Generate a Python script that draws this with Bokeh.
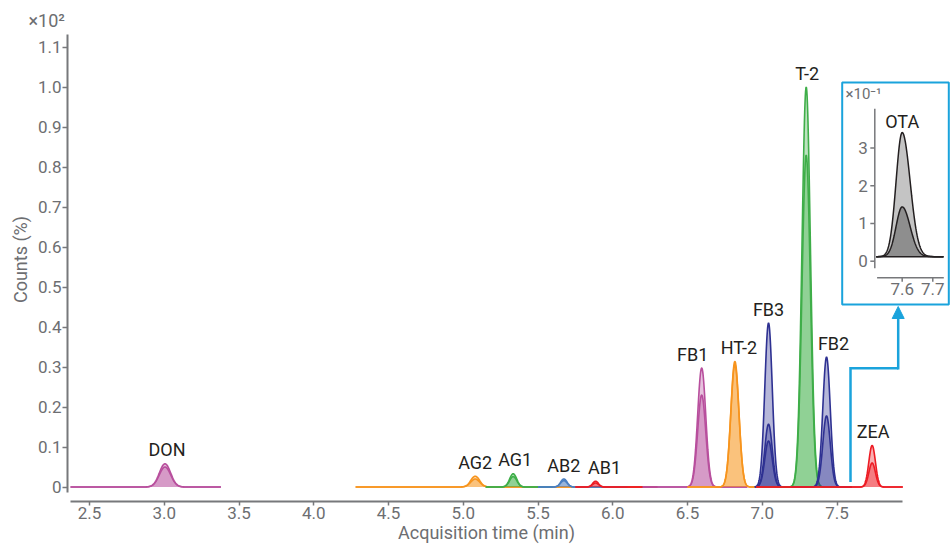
import numpy as np
from math import pi
from bokeh.plotting import figure
from bokeh.models import (Range1d, FixedTicker, Label, Arrow, NormalHead,
                          PrintfTickFormatter)
from bokeh.core.properties import value
from bokeh.embed import file_html
from bokeh.resources import INLINE

# ---------------- data ----------------
compounds = ["DON", "AG2", "AG1", "AB2", "AB1", "FB1", "HT-2", "FB3", "T-2", "FB2", "ZEA"]
apex_times = [3.005, 5.08, 5.334, 5.673, 5.885, 6.595, 6.817, 7.042, 7.294, 7.43, 7.735]
trace_heights = [
    [0.058, 0.050],
    [0.027, 0.020],
    [0.033, 0.026],
    [0.020, 0.016],
    [0.0145, 0.010],
    [0.2975, 0.23],
    [0.314, 0.306],
    [0.41, 0.157, 0.115],
    [1.0, 0.83],
    [0.325, 0.178],
    [0.104, 0.06],
]
peak_widths = [0.038, 0.030, 0.024, 0.022, 0.020, 0.027, 0.027, 0.025, 0.028, 0.025, 0.022]
window_start = [2.373, 4.28, 5.15, 5.50, 5.75, 6.20, 6.50, 6.95, 7.00, 7.20, 6.96]
window_end = [3.38, 6.30, 5.60, 6.10, 6.30, 6.90, 7.10, 7.30, 7.60, 7.60, 7.94]

ota_name = "OTA"
ota_time = 7.60
ota_heights = [3.29, 1.32]
ota_baseline = 0.12
ota_width_left = 0.020
ota_width_right = 0.026
ota_window = [7.515, 7.735]

x_ticks = [2.5, 3.0, 3.5, 4.0, 4.5, 5.0, 5.5, 6.0, 6.5, 7.0, 7.5]
y_ticks = [0, 0.1, 0.2, 0.3, 0.4, 0.5, 0.6, 0.7, 0.8, 0.9, 1.0, 1.1]
inset_x_ticks = [7.6, 7.7]
inset_y_ticks = [0, 1, 2, 3]
inset_y_labels = ["0", "1", "2", "3"]

# ---------------- styles ----------------
MAGENTA = "#b84f9d"
ORANGE = "#f7941d"
GREEN = "#3fae49"
BLUE = "#4a7fc1"
RED = "#ed1c24"
NAVY = "#2e3192"
colors = [MAGENTA, ORANGE, GREEN, BLUE, RED, MAGENTA, ORANGE, NAVY, GREEN, NAVY, RED]
label_dx = [2, 0, 2, 0, 9, -9, 4, 0, 1, 7, 1]
AXIS = "#77787b"
TICKTXT = "#6d6e71"
DARK = "#231f20"
CYAN = "#1aa3dc"
FONT = "Roboto"

# canvas-pixel geometry (canvas == page here)
W, H = 951, 545
X_REF_PX, X_PX_PER = 89.0, 149.5      # t = 2.5 at x px 89
Y_REF_PX, Y_PX_PER = 486.5, 400.0     # y = 0 at y px 486.5


def tx(px):
    return 2.5 + (px - X_REF_PX) / X_PX_PER


def ty(py):
    return (Y_REF_PX - py) / Y_PX_PER


p = figure(width=W, height=H, output_backend="svg", toolbar_location=None,
           x_range=Range1d(tx(0), tx(W)), y_range=Range1d(ty(H), ty(0)),
           min_border_left=0, min_border_right=0, min_border_top=0, min_border_bottom=0)
p.outline_line_color = None
p.xgrid.grid_line_color = None
p.ygrid.grid_line_color = None
p.background_fill_color = "white"
p.border_fill_color = "white"

xa = p.xaxis[0]
xa.fixed_location = ty(501)
xa.ticker = FixedTicker(ticks=x_ticks)
xa.formatter = PrintfTickFormatter(format="%.1f")
xa.bounds = (tx(70), tx(902.3))
ya = p.yaxis[0]
ya.fixed_location = tx(67)
ya.ticker = FixedTicker(ticks=y_ticks)
ya.formatter = PrintfTickFormatter(format="%.1f")
ya.major_label_overrides = {0: "0"}
ya.bounds = (ty(492), ty(34))
for ax in (xa, ya):
    ax.axis_line_color = AXIS
    ax.axis_line_width = 2
    ax.major_tick_line_color = AXIS
    ax.major_tick_line_width = 1.5
    ax.major_tick_in = 0
    ax.minor_tick_line_color = None
    ax.major_label_text_font = FONT
    ax.major_label_text_font_size = "17px"
    ax.major_label_text_color = TICKTXT
xa.major_tick_out = 4
xa.major_label_standoff = 1
ya.major_tick_out = 5
ya.major_label_standoff = 1

# axis titles and exponent (canvas pixel units)
p.add_layout(Label(x=486, y=532, x_units="canvas", y_units="canvas",
                   text="Acquisition time (min)", text_align="center", text_baseline="middle",
                   text_font=FONT, text_font_size="18px", text_color=TICKTXT))
p.add_layout(Label(x=20, y=259, x_units="canvas", y_units="canvas", angle=pi / 2,
                   text="Counts (%)", text_align="center", text_baseline="middle",
                   text_font=FONT, text_font_size="18px", text_color=TICKTXT))
p.add_layout(Label(x=28, y=20, x_units="canvas", y_units="canvas", text="×10²",
                   text_align="left", text_baseline="middle",
                   text_font=FONT, text_font_size="18px", text_color=TICKTXT))


def gauss(t, c, h, s):
    return h * np.exp(-0.5 * ((t - c) / s) ** 2)


# ---------------- chromatogram traces ----------------
for i, name in enumerate(compounds):
    t = np.arange(window_start[i], window_end[i], 0.002)
    for h in trace_heights[i]:
        y = gauss(t, apex_times[i], h, peak_widths[i])
        p.varea(x=t, y1=0, y2=y, fill_color=colors[i], fill_alpha=0.35)
        p.line(t, y, line_color=colors[i], line_width=1.6)

p.text(x=apex_times, y=[max(h) for h in trace_heights], text=compounds,
       x_offset=label_dx, y_offset=-14, text_align="center", text_baseline="middle",
       text_font=value(FONT), text_font_size="18px", text_color=DARK)

# ---------------- inset (OTA) ----------------
p.quad(left=tx(841.7), right=tx(948.3), bottom=ty(304), top=ty(82),
       fill_color="white", line_color=CYAN, line_width=2)

ix0, ix1 = 7.5105, 7.736
iy0, iy1 = -0.44, 4.04
ins = p.subplot(x_source=Range1d(ix0, ix1), y_source=Range1d(iy0, iy1),
                x_target=Range1d(tx(874.3), tx(943.3)),
                y_target=Range1d(ty(277.3), ty(108.3)))

t = np.arange(ota_window[0], ota_window[1], 0.001)
sig = np.where(t < ota_time, ota_width_left, ota_width_right)
ota_fills = ["#c4c4c4", "#8e8e8e"]
for h, fc in zip(ota_heights, ota_fills):
    y = ota_baseline + gauss(t, ota_time, h, sig)
    ins.varea(x=t, y1=ota_baseline, y2=y, fill_color=fc)
for h in ota_heights:
    y = ota_baseline + gauss(t, ota_time, h, sig)
    ins.line(t, y, line_color=DARK, line_width=1.5)
ins.line([ota_window[0], ota_window[1]], [ota_baseline, ota_baseline], line_color=DARK, line_width=1.5)

# inset axes
ins.segment(x0=[ix0], y0=[-0.187], x1=[ix0], y1=[iy1], line_color=AXIS, line_width=1.5)
ins.segment(x0=[7.518], y0=[iy0], x1=[ix1], y1=[iy0], line_color=AXIS, line_width=1.5)
ins.segment(x0=[ix0 - 0.0147] * len(inset_y_ticks), y0=inset_y_ticks,
            x1=[ix0] * len(inset_y_ticks), y1=inset_y_ticks, line_color=AXIS, line_width=1.5)
ins.segment(x0=inset_x_ticks, y0=[iy0] * 2, x1=inset_x_ticks, y1=[iy0 - 0.106] * 2,
            line_color=AXIS, line_width=1.5)
ins.text(x=[ix0] * len(inset_y_ticks), y=inset_y_ticks, text=inset_y_labels,
         x_offset=-7, text_align="right", text_baseline="middle",
         text_font=value(FONT), text_font_size="17px", text_color=TICKTXT)
ins.text(x=inset_x_ticks, y=[iy0] * 2, text=["%.1f" % v for v in inset_x_ticks],
         y_offset=5, text_align="center", text_baseline="top",
         text_font=value(FONT), text_font_size="17px", text_color=TICKTXT)
ins.text(x=[ota_time], y=[ota_baseline + max(ota_heights)], text=[ota_name],
         y_offset=-11, text_align="center", text_baseline="middle",
         text_font=value(FONT), text_font_size="18px", text_color=DARK)
p.add_layout(Label(x=845, y=93, x_units="canvas", y_units="canvas", text="×10⁻¹",
                   text_align="left", text_baseline="middle",
                   text_font=FONT, text_font_size="15px", text_color=TICKTXT))

# connector arrow
p.line(x=[tx(850), tx(850), tx(897.7)], y=[ty(481.5), ty(367.7), ty(367.7)],
       line_color=CYAN, line_width=2.5, line_join="miter")
p.add_layout(Arrow(end=NormalHead(size=12, fill_color=CYAN, line_color=CYAN),
                   x_start=tx(897.7), y_start=ty(368.9), x_end=tx(897.7), y_end=ty(306),
                   line_color=CYAN, line_width=2.5))

open("out.html", "w").write(file_html(p, INLINE))
